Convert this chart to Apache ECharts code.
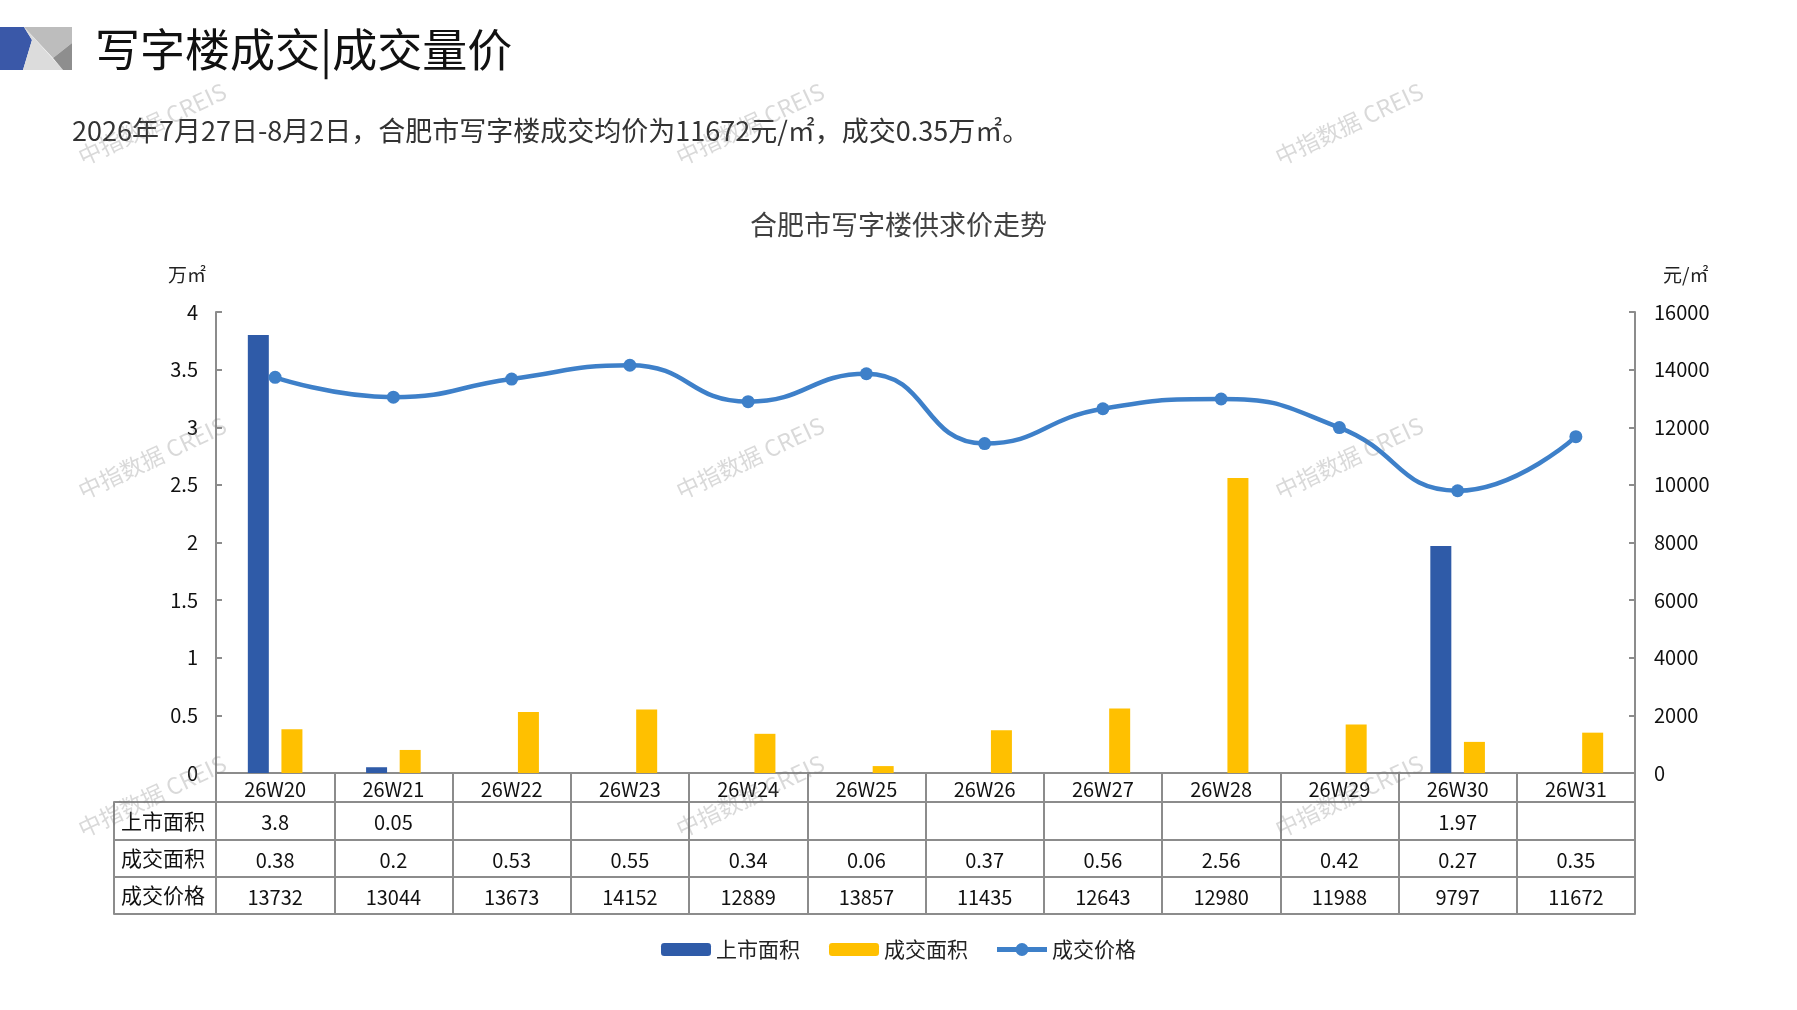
<!DOCTYPE html>
<html>
<head>
<meta charset="utf-8">
<script src="https://cdn.jsdelivr.net/npm/echarts@6/dist/echarts.min.js"></script>
<style>
html,body{margin:0;padding:0;background:#fff;}
#main{width:1797px;height:1010px;}
</style>
</head>
<body>
<div id="main"></div>
<script>
// ---- data ----
var categories = ['26W20','26W21','26W22','26W23','26W24','26W25','26W26','26W27','26W28','26W29','26W30','26W31'];
var supplyArea = [3.8, 0.05, null, null, null, null, null, null, null, null, 1.97, null];
var dealArea = [0.38, 0.2, 0.53, 0.55, 0.34, 0.06, 0.37, 0.56, 2.56, 0.42, 0.27, 0.35];
var dealPrice = [13732, 13044, 13673, 14152, 12889, 13857, 11435, 12643, 12980, 11988, 9797, 11672];
var rowNames = ['上市面积', '成交面积', '成交价格'];
var seriesNames = ['上市面积', '成交面积', '成交价格'];
var leftTicks = {min: 0, max: 4, interval: 0.5};
var rightTicks = {min: 0, max: 16000, interval: 2000};

var FONT = '"Noto Sans CJK SC", "Noto Sans", sans-serif';
var GRAY = '#8c8c8c';
var BLUE = '#2F5BA8';
var YELLOW = '#FFC000';
var LINEBLUE = '#3E80C9';
var LINE_ICON = 'path://M0,4 H50 V9 H0 Z M18.5,6.5 A6.5,6.5 0 1,1 31.5,6.5 A6.5,6.5 0 1,1 18.5,6.5 Z';

function fmt(v) { return (v === null || v === undefined) ? '' : String(v); }

var chart = echarts.init(document.getElementById('main'));

var gridLeft = 216, gridRight = 1797 - 1635, gridTop = 312, gridBottom = 1010 - 773;

function tableAxis(offset, arr, margin) {
  return {
    type: 'category', gridIndex: 0, position: 'bottom', data: categories, offset: offset,
    axisLine: {show: true, onZero: false, lineStyle: {color: GRAY, width: 2}},
    axisTick: {show: false},
    axisLabel: arr ? {
      show: true, interval: 0, margin: margin, fontSize: 20, color: '#111', fontFamily: FONT,
      formatter: function (val, idx) { return fmt(arr[idx]); }
    } : {show: false},
    splitLine: {show: false}
  };
}

var watermarks = [];
[152, 750, 1349].forEach(function (x) {
  [124, 458, 796].forEach(function (y) {
    watermarks.push({
      type: 'text', x: x, y: y, rotation: 0.44, z: 100, silent: true,
      style: {text: '中指数据 CREIS', fill: 'rgba(120,120,120,0.28)', font: '23px ' + FONT,
              align: 'center', verticalAlign: 'middle', textAlign: 'center', textVerticalAlign: 'middle'}
    });
  });
});

var option = {
  backgroundColor: '#fff',
  animation: false,
  textStyle: {fontFamily: FONT},
  title: [
    {text: '写字楼成交|成交量价', left: 95, top: 25, padding: 0,
     textStyle: {fontSize: 45, fontWeight: 'normal', color: '#111', fontFamily: FONT, lineHeight: 49}},
    {text: '2026年7月27日-8月2日，合肥市写字楼成交均价为11672元/㎡，成交0.35万㎡。', left: 72, top: 115, padding: 0,
     textStyle: {fontSize: 27, fontWeight: 'normal', color: '#333', fontFamily: FONT, lineHeight: 31}},
    {text: '合肥市写字楼供求价走势', left: 'center', top: 209, padding: 0,
     textStyle: {fontSize: 27, fontWeight: 'normal', color: '#404040', fontFamily: FONT, lineHeight: 31}}
  ],
  legend: {
    data: [
      {name: seriesNames[0]},
      {name: seriesNames[1]},
      {name: seriesNames[2], icon: LINE_ICON}
    ],
    left: 'center', top: 934, itemWidth: 50, itemHeight: 13, itemGap: 29,
    textStyle: {fontSize: 21, color: '#222', fontFamily: FONT}
  },
  grid: [
    {left: gridLeft, right: gridRight, top: gridTop, bottom: gridBottom, outerBoundsMode: 'none', containLabel: false},
    {left: 114, width: 102, top: 802, height: 112, outerBoundsMode: 'none', containLabel: false}
  ],
  xAxis: [
    {
      type: 'category', gridIndex: 0, position: 'bottom', data: categories,
      axisLine: {show: true, onZero: false, lineStyle: {color: GRAY, width: 2}},
      axisTick: {show: true, interval: 0, length: 141, lineStyle: {color: GRAY, width: 2}},
      axisLabel: {show: true, interval: 0, margin: 6, fontSize: 20, color: '#111', fontFamily: FONT},
      splitLine: {show: false}
    },
    tableAxis(29, supplyArea, 10),
    tableAxis(67, dealArea, 10),
    tableAxis(104, dealPrice, 10),
    tableAxis(141, null, 0),
    {type: 'value', gridIndex: 1, show: false, min: 0, max: 1}
  ],
  yAxis: [
    {
      type: 'value', gridIndex: 0, position: 'left', min: leftTicks.min, max: leftTicks.max, interval: leftTicks.interval,
      name: '万㎡', nameLocation: 'end', nameGap: 28,
      nameTextStyle: {fontSize: 19, color: '#222', align: 'right', padding: [0, 10, 0, 0], fontFamily: FONT},
      axisLine: {show: true, lineStyle: {color: GRAY, width: 2}},
      axisTick: {show: true, inside: true, length: 6, lineStyle: {color: GRAY, width: 2}},
      axisLabel: {fontSize: 20, color: '#111', margin: 18, fontFamily: FONT},
      splitLine: {show: false}
    },
    {
      type: 'value', gridIndex: 0, position: 'right', min: rightTicks.min, max: rightTicks.max, interval: rightTicks.interval,
      name: '元/㎡', nameLocation: 'end', nameGap: 28,
      nameTextStyle: {fontSize: 19, color: '#222', align: 'left', padding: [0, 0, 0, 28], fontFamily: FONT},
      axisLine: {show: true, lineStyle: {color: GRAY, width: 2}},
      axisTick: {show: true, inside: true, length: 6, lineStyle: {color: GRAY, width: 2}},
      axisLabel: {fontSize: 20, color: '#111', margin: 19, fontFamily: FONT,
                  formatter: function (v) { return String(v); }},
      splitLine: {show: false}
    },
    {
      type: 'category', gridIndex: 1, data: rowNames, inverse: true, position: 'left',
      axisLine: {show: true, onZero: false, lineStyle: {color: GRAY, width: 2}},
      axisTick: {show: false},
      axisLabel: {show: true, inside: true, margin: 7, fontSize: 21, color: '#111', fontFamily: FONT},
      splitLine: {show: true, interval: 0, lineStyle: {color: GRAY, width: 2}}
    }
  ],
  series: [
    {name: seriesNames[0], type: 'bar', xAxisIndex: 0, yAxisIndex: 0, data: supplyArea,
     barWidth: 21, barGap: '60%', itemStyle: {color: BLUE}},
    {name: seriesNames[1], type: 'bar', xAxisIndex: 0, yAxisIndex: 0, data: dealArea,
     barWidth: 21, barGap: '60%', itemStyle: {color: YELLOW}},
    {name: seriesNames[2], type: 'line', xAxisIndex: 0, yAxisIndex: 1, data: dealPrice, z: 5,
     smooth: 0.5, symbol: 'circle', symbolSize: 13,
     lineStyle: {color: LINEBLUE, width: 4.5}, itemStyle: {color: LINEBLUE}}
  ],
  graphic: [
    {type: 'polygon', silent: true, shape: {points: [[0,27],[24,27],[32,40],[23,70],[0,70]]}, style: {fill: '#3A58A8'}},
    {type: 'polygon', silent: true, shape: {points: [[24,27],[63,70],[23,70],[32,40]]}, style: {fill: '#DCDCDC'}},
    {type: 'polygon', silent: true, shape: {points: [[24,27],[72,27],[72,43],[53,58]]}, style: {fill: '#BDBDBD'}},
    {type: 'polygon', silent: true, shape: {points: [[53,58],[72,43],[72,70],[63,70]]}, style: {fill: '#8E8E8E'}}
  ].concat(watermarks)
};

chart.setOption(option);
</script>
</body>
</html>
